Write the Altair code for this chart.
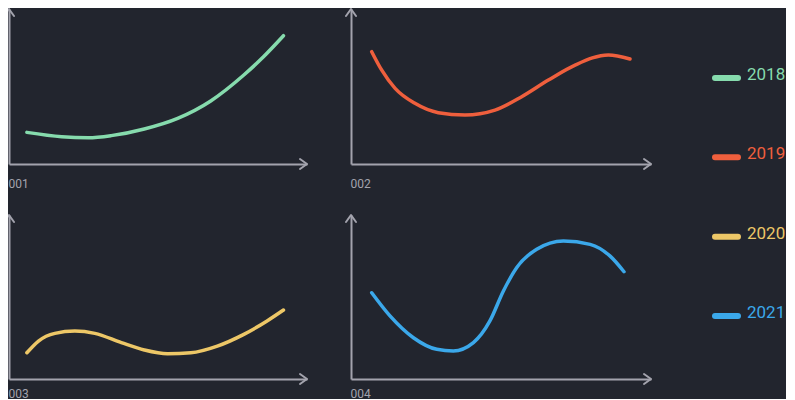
import altair as alt
import pandas as pd

# ---- data ----
years = ["2018", "2019", "2020", "2021"]
colors = ["#86dbad", "#ef5f3d", "#edc767", "#3ba8ea"]
panel_labels = ["001", "002", "003", "004"]

x_2018 = [0.60, 1.77, 2.66, 3.43, 4.54, 5.66, 6.77, 7.88, 8.54, 9.21]
y_2018 = [1.94, 1.67, 1.61, 1.74, 2.15, 2.80, 3.87, 5.46, 6.58, 7.87]

x_2019 = [0.69, 1.02, 1.47, 2.13, 2.91, 3.80, 4.80, 5.69, 6.58, 7.47, 8.58, 9.30]
y_2019 = [6.89, 5.77, 4.64, 3.72, 3.15, 3.01, 3.31, 4.13, 5.15, 6.07, 6.69, 6.44]

x_2020 = [0.60, 0.99, 1.54, 2.21, 2.88, 3.77, 4.54, 5.32, 6.10, 6.99, 7.88, 8.66, 9.21]
y_2020 = [1.61, 2.33, 2.80, 2.94, 2.80, 2.23, 1.78, 1.55, 1.61, 2.02, 2.74, 3.56, 4.23]

x_2021 = [0.69, 1.30, 2.08, 2.86, 3.41, 4.08, 4.63, 5.08, 5.52, 6.19, 7.08, 7.97, 8.63, 9.10]
y_2021 = [5.29, 3.87, 2.53, 1.82, 1.72, 2.23, 3.56, 5.40, 6.83, 7.96, 8.47, 8.26, 7.55, 6.58]

x_max = 10
y_max_top_row = 9.51
y_max_bottom_row = 10.06

series = [(x_2018, y_2018), (x_2019, y_2019), (x_2020, y_2020), (x_2021, y_2021)]

# ---- style ----
BG = "#22252e"
AXIS = "#a3a3ad"
FONT = "Roboto, sans-serif"

color_scale = alt.Scale(domain=years, range=colors)
ARROW_RIGHT = "M-1.4,-1L0,0L-1.4,1"
ARROW_UP = "M-1,1.4L0,0L1,1.4"


def panel(year, label, xs, ys, width, height, y_max, title_y):
    df = pd.DataFrame({"x": xs, "y": ys, "year": year})
    xsc = alt.Scale(domain=[0, x_max], nice=False, zero=False)
    ysc = alt.Scale(domain=[0, y_max], nice=False, zero=False)
    x_axis = alt.Axis(domain=True, ticks=False, labels=False, grid=False,
                      domainColor=AXIS, domainWidth=2, title=label,
                      titleAnchor="start", titleAlign="left",
                      titleBaseline="alphabetic", titleX=-1, titleY=title_y,
                      titleColor=AXIS, titleFont=FONT, titleFontSize=12,
                      titleFontWeight="normal")
    y_axis = alt.Axis(domain=True, ticks=False, labels=False, grid=False,
                      domainColor=AXIS, domainWidth=2, title="")
    line = alt.Chart(df).mark_line(
        strokeWidth=3.5, strokeCap="round", interpolate="monotone"
    ).encode(
        x=alt.X("x:Q", scale=xsc, axis=x_axis),
        y=alt.Y("y:Q", scale=ysc, axis=y_axis),
        color=alt.Color("year:N", scale=color_scale, legend=None),
    )
    right = alt.Chart(pd.DataFrame({"x": [x_max], "y": [0]})).mark_point(
        shape=ARROW_RIGHT, size=100, filled=False, stroke=AXIS, strokeWidth=2,
        opacity=1, strokeCap="round", strokeJoin="round"
    ).encode(x=alt.X("x:Q", scale=xsc, axis=x_axis), y=alt.Y("y:Q", scale=ysc, axis=y_axis))
    up = alt.Chart(pd.DataFrame({"x": [0], "y": [y_max]})).mark_point(
        shape=ARROW_UP, size=100, filled=False, stroke=AXIS, strokeWidth=2,
        opacity=1, strokeCap="round", strokeJoin="round"
    ).encode(x=alt.X("x:Q", scale=xsc, axis=x_axis), y=alt.Y("y:Q", scale=ysc, axis=y_axis))
    return alt.layer(line, right, up).properties(width=width, height=height)


p1 = panel(years[0], panel_labels[0], *series[0], 298, 155, y_max_top_row, 23)
p2 = panel(years[1], panel_labels[1], *series[1], 300, 155, y_max_top_row, 23)
p3 = panel(years[2], panel_labels[2], *series[2], 298, 164, y_max_bottom_row, 18)
p4 = panel(years[3], panel_labels[3], *series[3], 300, 164, y_max_bottom_row, 18)

leg_df = pd.DataFrame({"year": years})
leg_y = alt.Y("year:N", scale=alt.Scale(type="point", domain=years, range=[69, 307], padding=0),
              axis=alt.Axis(domain=False, ticks=False, labels=False, grid=False, title=""))
leg_rule = alt.Chart(leg_df).mark_rule(strokeWidth=6, strokeCap="round").encode(
    x=alt.value(20), x2=alt.value(43), y=leg_y,
    color=alt.Color("year:N", scale=color_scale, legend=None),
)
leg_text = alt.Chart(leg_df).mark_text(
    align="left", baseline="middle", font=FONT, fontSize=17, dy=-3
).encode(
    x=alt.value(52), y=leg_y, text="year:N",
    color=alt.Color("year:N", scale=color_scale, legend=None),
)
legend = alt.layer(leg_rule, leg_text).properties(width=90, height=155)

chart = alt.concat(
    p1, p2, legend, p3, p4,
    columns=3, spacing={"row": 51, "column": 44}, bounds="flush", align="each",
).properties(
    background=BG,
    padding={"left": -5, "top": 0, "right": 0, "bottom": 0},
).configure_view(strokeWidth=0)

chart.save("out.html", embed_options={"renderer": "svg", "actions": False})
